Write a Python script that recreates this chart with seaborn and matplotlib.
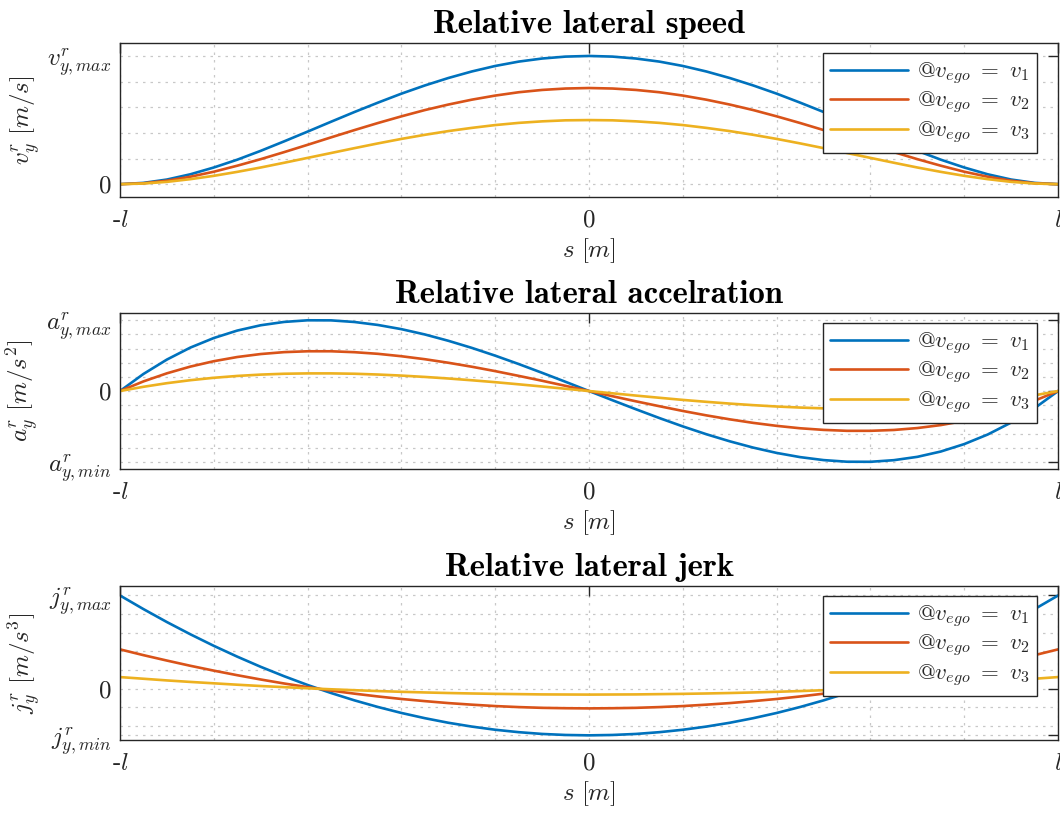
import numpy as np
import pandas as pd
import matplotlib
matplotlib.use("Agg")
import matplotlib.pyplot as plt
import seaborn as sns
from matplotlib.ticker import MultipleLocator

# posição ao longo da manobra, de -l a l
s = [-1.00, -0.95, -0.90, -0.85, -0.80, -0.75, -0.70, -0.65, -0.60, -0.55, -0.50,
     -0.45, -0.40, -0.35, -0.30, -0.25, -0.20, -0.15, -0.10, -0.05, 0.00,
     0.05, 0.10, 0.15, 0.20, 0.25, 0.30, 0.35, 0.40, 0.45, 0.50,
     0.55, 0.60, 0.65, 0.70, 0.75, 0.80, 0.85, 0.90, 0.95, 1.00]

# velocidade lateral relativa (normalizada por v_max)
vel_v1 = [0, 0.010, 0.036, 0.077, 0.130, 0.191, 0.260, 0.334, 0.410, 0.487, 0.563,
          0.636, 0.706, 0.770, 0.828, 0.879, 0.922, 0.956, 0.980, 0.995, 1.000,
          0.995, 0.980, 0.956, 0.922, 0.879, 0.828, 0.770, 0.706, 0.636, 0.563,
          0.487, 0.410, 0.334, 0.260, 0.191, 0.130, 0.077, 0.036, 0.010, 0]
vel_v2 = [0, 0.007, 0.027, 0.058, 0.097, 0.144, 0.195, 0.250, 0.307, 0.365, 0.422,
          0.477, 0.529, 0.578, 0.621, 0.659, 0.691, 0.717, 0.735, 0.746, 0.750,
          0.746, 0.735, 0.717, 0.691, 0.659, 0.621, 0.578, 0.529, 0.477, 0.422,
          0.365, 0.307, 0.250, 0.195, 0.144, 0.097, 0.058, 0.027, 0.007, 0]
vel_v3 = [0, 0.005, 0.018, 0.039, 0.065, 0.096, 0.130, 0.167, 0.205, 0.243, 0.281,
          0.318, 0.353, 0.385, 0.414, 0.439, 0.461, 0.478, 0.490, 0.498, 0.500,
          0.498, 0.490, 0.478, 0.461, 0.439, 0.414, 0.385, 0.353, 0.318, 0.281,
          0.243, 0.205, 0.167, 0.130, 0.096, 0.065, 0.039, 0.018, 0.005, 0]

# aceleração lateral relativa
acc_v1 = [0, 0.241, 0.444, 0.613, 0.748, 0.853, 0.928, 0.975, 0.998, 0.997, 0.974,
          0.932, 0.873, 0.798, 0.709, 0.609, 0.499, 0.381, 0.257, 0.130, 0,
          -0.130, -0.257, -0.381, -0.499, -0.609, -0.709, -0.798, -0.873, -0.932, -0.974,
          -0.997, -0.998, -0.975, -0.928, -0.853, -0.748, -0.613, -0.444, -0.241, 0]
acc_v2 = [0, 0.136, 0.250, 0.345, 0.421, 0.480, 0.522, 0.549, 0.561, 0.561, 0.548,
          0.525, 0.491, 0.449, 0.399, 0.343, 0.281, 0.214, 0.145, 0.073, 0,
          -0.073, -0.145, -0.214, -0.281, -0.343, -0.399, -0.449, -0.491, -0.525, -0.548,
          -0.561, -0.561, -0.549, -0.522, -0.480, -0.421, -0.345, -0.250, -0.136, 0]
acc_v3 = [0, 0.060, 0.111, 0.153, 0.187, 0.213, 0.232, 0.244, 0.249, 0.249, 0.244,
          0.233, 0.218, 0.199, 0.177, 0.152, 0.125, 0.095, 0.064, 0.032, 0,
          -0.032, -0.064, -0.095, -0.125, -0.152, -0.177, -0.199, -0.218, -0.233, -0.244,
          -0.249, -0.249, -0.244, -0.232, -0.213, -0.187, -0.153, -0.111, -0.060, 0]

# jerk lateral relativo
jerk_v1 = [1.000, 0.854, 0.715, 0.584, 0.460, 0.344, 0.235, 0.134, 0.040, -0.046, -0.125,
           -0.196, -0.260, -0.316, -0.365, -0.406, -0.440, -0.466, -0.485, -0.496, -0.500,
           -0.496, -0.485, -0.466, -0.440, -0.406, -0.365, -0.316, -0.260, -0.196, -0.125,
           -0.046, 0.040, 0.134, 0.235, 0.344, 0.460, 0.584, 0.715, 0.854, 1.000]
jerk_v2 = [0.422, 0.360, 0.302, 0.246, 0.194, 0.145, 0.099, 0.056, 0.017, -0.020, -0.053,
           -0.083, -0.110, -0.133, -0.154, -0.171, -0.186, -0.197, -0.205, -0.209, -0.211,
           -0.209, -0.205, -0.197, -0.186, -0.171, -0.154, -0.133, -0.110, -0.083, -0.053,
           -0.020, 0.017, 0.056, 0.099, 0.145, 0.194, 0.246, 0.302, 0.360, 0.422]
jerk_v3 = [0.125, 0.107, 0.089, 0.073, 0.058, 0.043, 0.029, 0.017, 0.005, -0.006, -0.016,
           -0.025, -0.033, -0.040, -0.046, -0.051, -0.055, -0.058, -0.061, -0.062, -0.063,
           -0.062, -0.061, -0.058, -0.055, -0.051, -0.046, -0.040, -0.033, -0.025, -0.016,
           -0.006, 0.005, 0.017, 0.029, 0.043, 0.058, 0.073, 0.089, 0.107, 0.125]

legendas = [r"$@v_{ego}\ =\ v_1$", r"$@v_{ego}\ =\ v_2$", r"$@v_{ego}\ =\ v_3$"]
cores = ["#0072BD", "#D95319", "#EDB120"]

x_ticks = [-1, 0, 1]
x_ticklabels = [r"-$l$", r"$0$", r"$l$"]

paineis = [
    {"titulo": "Relative lateral speed", "series": [vel_v1, vel_v2, vel_v3],
     "ylabel": r"$v_y^r\ [m/s]$", "yticks": [0, 1],
     "yticklabels": [r"$0$", r"$v_{y,max}^r$"], "ylim": (-0.1, 1.1)},
    {"titulo": "Relative lateral accelration", "series": [acc_v1, acc_v2, acc_v3],
     "ylabel": r"$a_y^r\ [m/s^2]$", "yticks": [-1, 0, 1],
     "yticklabels": [r"$a_{y,min}^r$", r"$0$", r"$a_{y,max}^r$"], "ylim": (-1.1, 1.1)},
    {"titulo": "Relative lateral jerk", "series": [jerk_v1, jerk_v2, jerk_v3],
     "ylabel": r"$j_y^r\ [m/s^3]$", "yticks": [-0.5, 0, 1],
     "yticklabels": [r"$j_{y,min}^r$", r"$0$", r"$j_{y,max}^r$"], "ylim": (-0.55, 1.1)},
]

sns.set_style("white")
plt.rcParams["font.family"] = ["cmr10", "DejaVu Sans"]
plt.rcParams["mathtext.fontset"] = "cm"
plt.rcParams["axes.formatter.use_mathtext"] = True

fig = plt.figure(figsize=(10.6, 8.14), dpi=100)
posicoes = [[0.1132, 0.758, 0.885, 0.189],
            [0.1132, 0.4238, 0.885, 0.1916],
            [0.1132, 0.0909, 0.885, 0.189]]

for pos, p in zip(posicoes, paineis):
    ax = fig.add_axes(pos)
    for serie, cor, rotulo in zip(p["series"], cores, legendas):
        sns.lineplot(x=s, y=serie, ax=ax, color=cor, linewidth=1.9, label=rotulo)

    ax.set_xlim(-1, 1)
    ax.set_ylim(*p["ylim"])
    ax.set_xticks(x_ticks)
    ax.set_xticklabels(x_ticklabels)
    ax.set_yticks(p["yticks"])
    ax.set_yticklabels(p["yticklabels"])
    ax.xaxis.set_minor_locator(MultipleLocator(0.2))
    ax.yaxis.set_minor_locator(MultipleLocator(0.2))
    ax.tick_params(which="major", direction="in", length=7, width=1, labelsize=18,
                   top=True, right=True, colors="#262626", labelcolor="#262626")
    ax.tick_params(axis="x", which="major", pad=9)
    ax.tick_params(axis="y", which="major", pad=6)
    ax.tick_params(which="minor", length=0)
    ax.grid(which="both", color="#c8c8c8", linestyle=(0, (2, 4)), linewidth=0.9)
    for sp in ax.spines.values():
        sp.set_color("#262626")
        sp.set_linewidth(1.0)

    ax.set_xlabel(r"$s\ [m]$", fontsize=18, labelpad=3)
    ax.set_ylabel(p["ylabel"], fontsize=18, labelpad=4)
    ax.set_title(p["titulo"], fontsize=23.5, family="cmb10", color="black", pad=7)

    leg = ax.legend(loc="upper right", bbox_to_anchor=(0.978, 0.935), borderaxespad=0,
                    fontsize=16.5, frameon=True, fancybox=False, framealpha=1,
                    edgecolor="#262626", handlelength=3.4, labelspacing=0.15,
                    borderpad=0.32, handletextpad=0.4)
    leg.get_frame().set_linewidth(1.0)

fig.savefig("out.png", dpi=100)
